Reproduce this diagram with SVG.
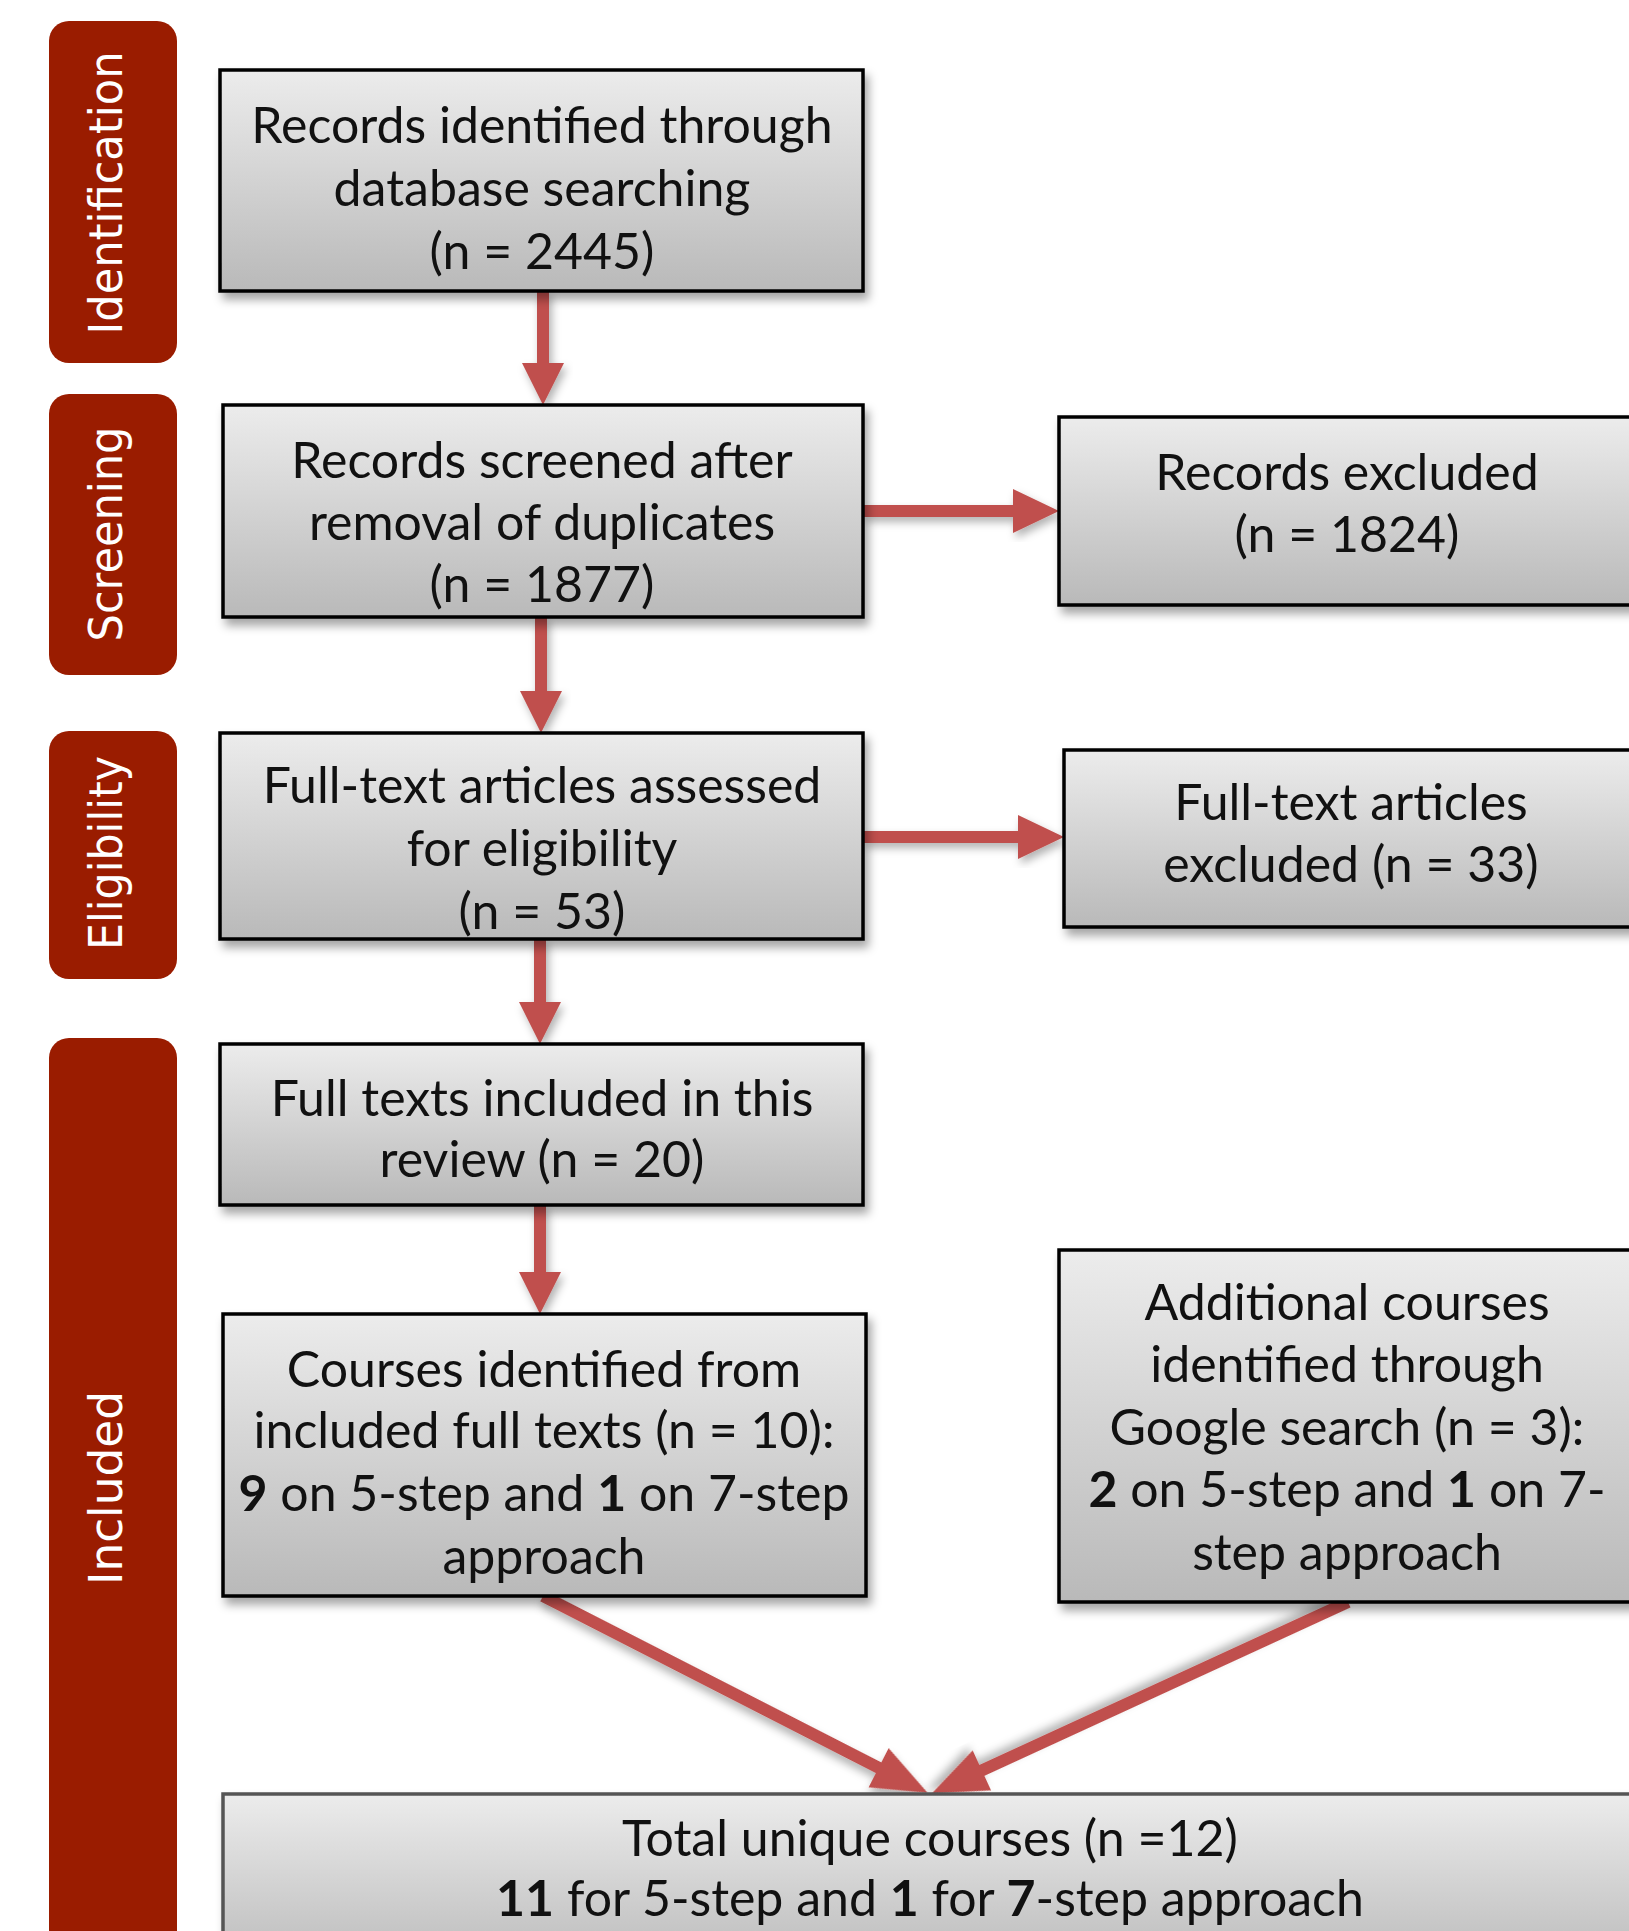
<svg xmlns="http://www.w3.org/2000/svg" width="1629" height="1931" viewBox="0 0 1629 1931">
<defs>
<linearGradient id="g" x1="0" y1="0" x2="0" y2="1">
<stop offset="0" stop-color="#ececec"/>
<stop offset="1" stop-color="#b9b9b9"/>
</linearGradient>
<filter id="sh" x="-10%" y="-10%" width="130%" height="130%">
<feDropShadow dx="4" dy="7" stdDeviation="5" flood-color="#000" flood-opacity="0.35"/>
</filter>
<filter id="ash" x="-10%" y="-10%" width="130%" height="130%">
<feDropShadow dx="3" dy="5" stdDeviation="4" flood-color="#000" flood-opacity="0.3"/>
</filter>
</defs>
<style>
.box{fill:url(#g);stroke:#000;stroke-width:3.5;filter:url(#sh)}
.bar{fill:#9a1c00}
.lbl{font-family:"DejaVu Sans",Verdana,sans-serif;font-size:47px;fill:#fff;text-anchor:middle}
.t{font-family:Lato,"Open Sans",sans-serif;font-size:50px;fill:#111;text-anchor:middle}
.b{font-weight:bold}
.arr{fill:#c0504d;filter:url(#ash)}
</style>
<rect width="1629" height="1931" fill="#fff"/>

<g id="stage-identification">
<rect class="bar" x="49" y="21" width="128" height="342" rx="20"/>
<text class="lbl" transform="translate(122,193) rotate(-90)" textLength="283" lengthAdjust="spacingAndGlyphs">Identification</text>
</g>
<g id="stage-screening">
<rect class="bar" x="49" y="394" width="128" height="281" rx="20"/>
<text class="lbl" transform="translate(122,534) rotate(-90)" textLength="215" lengthAdjust="spacingAndGlyphs">Screening</text>
</g>
<g id="stage-eligibility">
<rect class="bar" x="49" y="731" width="128" height="248" rx="20"/>
<text class="lbl" transform="translate(122,853) rotate(-90)" textLength="194" lengthAdjust="spacingAndGlyphs">Eligibility</text>
</g>
<g id="stage-included">
<rect class="bar" x="49" y="1038" width="128" height="920" rx="20"/>
<text class="lbl" transform="translate(122,1488) rotate(-90)" textLength="194" lengthAdjust="spacingAndGlyphs">Included</text>
</g>

<g id="connectors">
<path class="arr" d="M537,291 L549,291 L549,363 L564,363 L543,405 L522,363 L537,363 Z"/>
<path class="arr" d="M535,617 L547,617 L547,691 L562,691 L541,733 L520,691 L535,691 Z"/>
<path class="arr" d="M534,939 L546,939 L546,1002 L561,1002 L540,1044 L519,1002 L534,1002 Z"/>
<path class="arr" d="M534,1205 L546,1205 L546,1272 L561,1272 L540,1314 L519,1272 L534,1272 Z"/>
<path class="arr" d="M863,505 L1013,505 L1013,489 L1059,511 L1013,533 L1013,517 L863,517 Z"/>
<path class="arr" d="M863,831 L1018,831 L1018,815 L1064,837 L1018,859 L1018,843 L863,843 Z"/>
<path class="arr" transform="translate(543,1596) rotate(27.1)" d="M0,-6 L377,-6 L377,-22 L432,0 L377,22 L377,6 L0,6 Z"/>
<path class="arr" transform="translate(1348,1602) rotate(155.3)" d="M0,-6 L403,-6 L403,-22 L458,0 L403,22 L403,6 L0,6 Z"/>
</g>

<g id="n-identified">
<rect class="box" x="220" y="70" width="643" height="221"/>
<text class="t" x="542" y="143">Records identified through</text>
<text class="t" x="542" y="206">database searching</text>
<text class="t" x="542" y="269">(n = 2445)</text>
</g>
<g id="n-screened">
<rect class="box" x="223" y="405" width="640" height="212"/>
<text class="t" x="542" y="478">Records screened after</text>
<text class="t" x="542" y="540">removal of duplicates</text>
<text class="t" x="542" y="602">(n = 1877)</text>
</g>
<g id="n-excluded">
<rect class="box" x="1059" y="417" width="590" height="188"/>
<text class="t" x="1347" y="490">Records excluded</text>
<text class="t" x="1347" y="552">(n = 1824)</text>
</g>
<g id="n-assessed">
<rect class="box" x="220" y="733" width="643" height="206"/>
<text class="t" x="542" y="803">Full-text articles assessed</text>
<text class="t" x="542" y="866">for eligibility</text>
<text class="t" x="542" y="929">(n = 53)</text>
</g>
<g id="n-ft-excluded">
<rect class="box" x="1064" y="750" width="590" height="177"/>
<text class="t" x="1351" y="820">Full-text articles</text>
<text class="t" x="1351" y="882">excluded (n = 33)</text>
</g>
<g id="n-included">
<rect class="box" x="220" y="1044" width="643" height="161"/>
<text class="t" x="542" y="1116">Full texts included in this</text>
<text class="t" x="542" y="1177">review (n = 20)</text>
</g>
<g id="n-courses">
<rect class="box" x="223" y="1314" width="643" height="282"/>
<text class="t" x="544" y="1387">Courses identified from</text>
<text class="t" x="544" y="1448">included full texts (n = 10):</text>
<text class="t" x="544" y="1511"><tspan class="b">9</tspan> on 5-step and <tspan class="b">1</tspan> on 7-step</text>
<text class="t" x="544" y="1574">approach</text>
</g>
<g id="n-additional">
<rect class="box" x="1059" y="1250" width="590" height="352"/>
<text class="t" x="1347" y="1320">Additional courses</text>
<text class="t" x="1347" y="1382">identified through</text>
<text class="t" x="1347" y="1445">Google search (n = 3):</text>
<text class="t" x="1347" y="1507"><tspan class="b">2</tspan> on 5-step and <tspan class="b">1</tspan> on 7-</text>
<text class="t" x="1347" y="1570">step approach</text>
</g>
<g id="n-total">
<rect class="box" x="223" y="1794" width="1430" height="180" style="stroke:#555"/>
<text class="t" x="930" y="1856">Total unique courses (n =12)</text>
<text class="t" x="930" y="1916"><tspan class="b">11</tspan> for 5-step and <tspan class="b">1</tspan> for <tspan class="b">7</tspan>-step approach</text>
</g>
</svg>
